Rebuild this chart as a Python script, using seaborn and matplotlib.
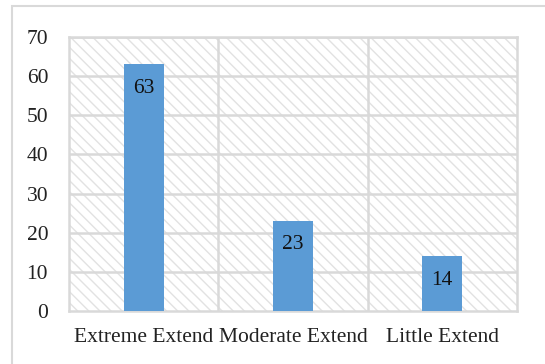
import matplotlib
matplotlib.use("Agg")
import matplotlib.pyplot as plt
from matplotlib.patches import Rectangle
import seaborn as sns
import pandas as pd

categories = ["Extreme Extend", "Moderate Extend", "Little Extend"]
values = [63, 23, 14]
y_ticks = [0, 10, 20, 30, 40, 50, 60, 70]

sns.set_theme(style="white")
plt.rcParams["font.family"] = ["Liberation Serif", "DejaVu Serif"]
plt.rcParams["hatch.linewidth"] = 1.0

df = pd.DataFrame({"category": categories, "value": values})

fig = plt.figure(figsize=(5.45, 3.64), dpi=100)
ax = fig.add_axes([69 / 545, 1 - 311 / 364, (517 - 69) / 545, (311 - 37) / 364])

# outer chart frame
fig.patches.append(Rectangle((12 / 545, -0.05), 1.05, 1 - 6 / 364 + 0.05,
                             transform=fig.transFigure, fill=False,
                             edgecolor="#d9d9d9", linewidth=1.5, zorder=0))

grid_c = "#d9d9d9"
# hatched plot background
ax.add_patch(Rectangle((0, 0), 1, 1, transform=ax.transAxes, facecolor="white",
                       edgecolor="#e2e2e2", hatch="\\\\\\", linewidth=0, zorder=0))

for y in y_ticks[1:]:
    ax.axhline(y, color=grid_c, linewidth=1.8, zorder=1)
for x in [0.5, 1.5]:
    ax.axvline(x, color=grid_c, linewidth=1.8, zorder=1)

sns.barplot(data=df, x="category", y="value", color="#5b9bd5", saturation=1,
            width=0.27, ax=ax, zorder=3, linewidth=0)

ax.set_xlim(-0.5, 2.5)
ax.set_ylim(0, 70)
ax.set_yticks(y_ticks)
ax.set_xlabel("")
ax.set_ylabel("")
for s in ax.spines.values():
    s.set_color(grid_c)
    s.set_linewidth(1.8)
ax.tick_params(axis="both", length=0, labelsize=15.5, colors="#222222")
ax.tick_params(axis="y", pad=15)
ax.tick_params(axis="x", pad=12)

for i, v in enumerate(values):
    ax.annotate(str(v), (i, v), xytext=(0, -24), textcoords="offset pixels",
                ha="center", va="center", fontsize=15.5, color="#111111", zorder=4)

fig.savefig("out.png", dpi=100)
